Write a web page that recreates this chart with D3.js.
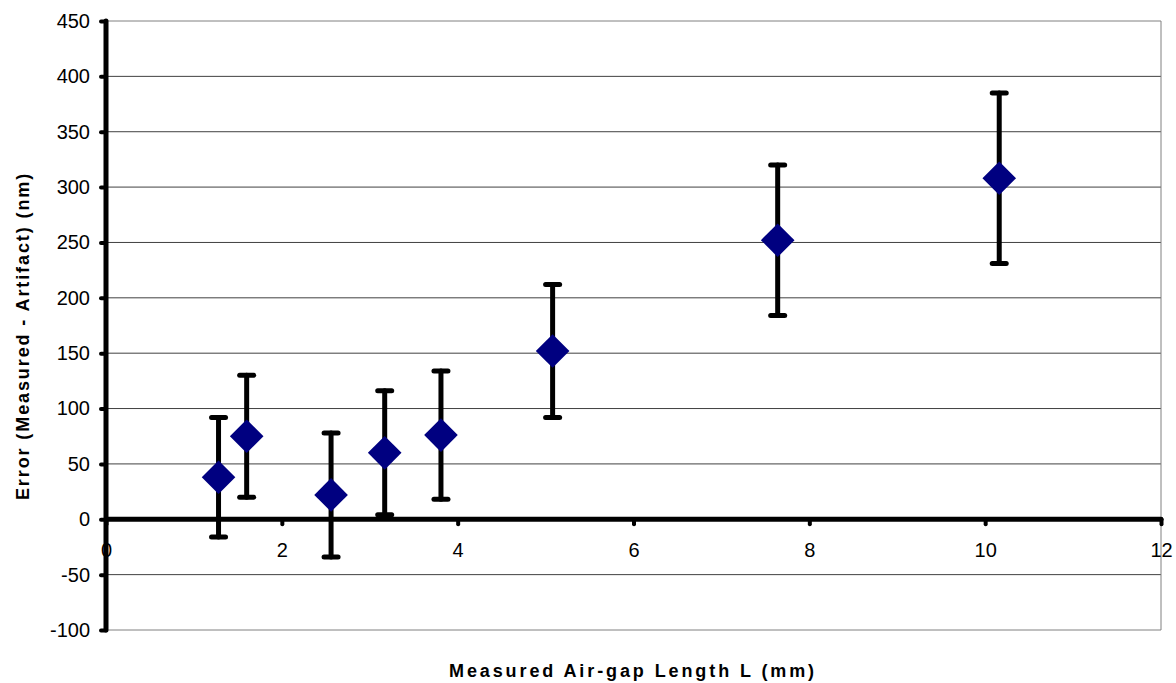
<!DOCTYPE html>
<html>
<head>
<meta charset="utf-8">
<script src="https://cdn.jsdelivr.net/npm/d3@7"></script>
<style>
  body { margin: 0; background: #fff; }
  svg { display: block; font-family: "Liberation Sans", Arial, sans-serif; }
</style>
</head>
<body>
<div id="vis"></div>
<script>
// Data
let gapLength = [1.28, 1.60, 2.56, 3.17, 3.81, 5.08, 7.64, 10.16];
let errorNm   = [38, 75, 22, 60, 76, 152, 252, 308];
let errorBar  = [54, 55, 56, 56, 58, 60, 68, 77];
let xTicks = [0, 2, 4, 6, 8, 10, 12];
let yTicks = [-100, -50, 0, 50, 100, 150, 200, 250, 300, 350, 400, 450];

const svgWidth = 1176, svgHeight = 683;
const plotLeft = 106, plotRight = 1161, plotTop = 21, plotBottom = 630;

let svg = d3.select("#vis").append("svg")
  .attr("width", svgWidth)
  .attr("height", svgHeight);

let x = d3.scaleLinear().domain([0, 12]).range([plotLeft, plotRight]);
let y = d3.scaleLinear().domain([-100, 450]).range([plotBottom, plotTop]);

// grid lines
svg.append("g")
  .selectAll("line")
  .data(yTicks)
  .enter()
  .append("line")
  .attr("x1", plotLeft).attr("x2", plotRight)
  .attr("y1", d => y(d)).attr("y2", d => y(d))
  .attr("stroke", d => (d === 450 || d === -100) ? "#808080" : "#404040")
  .attr("stroke-width", 1);

// right border of plot area
svg.append("line")
  .attr("x1", plotRight).attr("x2", plotRight)
  .attr("y1", plotTop).attr("y2", plotBottom)
  .attr("stroke", "#808080")
  .attr("stroke-width", 1);

// plain hyphen for negatives, like the original
const plainFormat = d => String(d);

// y axis
let yAxis = svg.append("g")
  .attr("transform", `translate(${plotLeft},0)`)
  .call(d3.axisLeft(y).tickValues(yTicks).tickFormat(plainFormat).tickSize(6).tickPadding(10));
yAxis.select(".domain").remove();
yAxis.selectAll(".tick line")
  .attr("stroke", "#000").attr("stroke-width", 4).attr("stroke-linecap", "round")
  .attr("x2", -5);
yAxis.selectAll(".tick text")
  .attr("font-size", 20).attr("fill", "#000")
  .attr("font-family", "Liberation Sans, Arial, sans-serif");
svg.append("line")
  .attr("x1", plotLeft).attr("x2", plotLeft)
  .attr("y1", plotTop).attr("y2", plotBottom)
  .attr("stroke", "#000").attr("stroke-width", 5).attr("stroke-linecap", "round");

// x axis at y = 0
let xAxis = svg.append("g")
  .attr("transform", `translate(0,${y(0)})`)
  .call(d3.axisBottom(x).tickValues(xTicks).tickFormat(plainFormat).tickSize(5).tickPadding(19));
xAxis.select(".domain").remove();
xAxis.selectAll(".tick line")
  .attr("stroke", "#000").attr("stroke-width", 4).attr("stroke-linecap", "round")
  .attr("y2", 5);
xAxis.selectAll(".tick text")
  .attr("font-size", 20).attr("fill", "#000")
  .attr("font-family", "Liberation Sans, Arial, sans-serif");
svg.append("line")
  .attr("x1", plotLeft).attr("x2", plotRight)
  .attr("y1", y(0)).attr("y2", y(0))
  .attr("stroke", "#000").attr("stroke-width", 5).attr("stroke-linecap", "round");

// error bars
let points = gapLength.map((d, i) => ({ x: d, y: errorNm[i], e: errorBar[i] }));
let bars = svg.append("g").selectAll("g").data(points).enter().append("g")
  .attr("stroke", "#000").attr("stroke-width", 5).attr("stroke-linecap", "round");
bars.append("line")
  .attr("x1", d => x(d.x)).attr("x2", d => x(d.x))
  .attr("y1", d => y(d.y + d.e)).attr("y2", d => y(d.y - d.e));
bars.append("line")
  .attr("x1", d => x(d.x) - 7).attr("x2", d => x(d.x) + 7)
  .attr("y1", d => y(d.y + d.e)).attr("y2", d => y(d.y + d.e));
bars.append("line")
  .attr("x1", d => x(d.x) - 7).attr("x2", d => x(d.x) + 7)
  .attr("y1", d => y(d.y - d.e)).attr("y2", d => y(d.y - d.e));

// diamond markers
svg.append("g").selectAll("path").data(points).enter().append("path")
  .attr("d", d3.symbol().type(d3.symbolDiamond2).size(720))
  .attr("transform", d => `translate(${x(d.x)},${y(d.y)})`)
  .attr("fill", "#000080");

// axis titles
svg.append("text")
  .attr("transform", "translate(29,336) rotate(-90)")
  .attr("text-anchor", "middle")
  .attr("font-size", 18).attr("font-weight", "bold")
  .attr("letter-spacing", 1.9)
  .text("Error (Measured - Artifact) (nm)");

svg.append("text")
  .attr("x", 633).attr("y", 677)
  .attr("text-anchor", "middle")
  .attr("font-size", 18).attr("font-weight", "bold")
  .attr("letter-spacing", 2.9)
  .text("Measured Air-gap Length L (mm)");
</script>
</body>
</html>
